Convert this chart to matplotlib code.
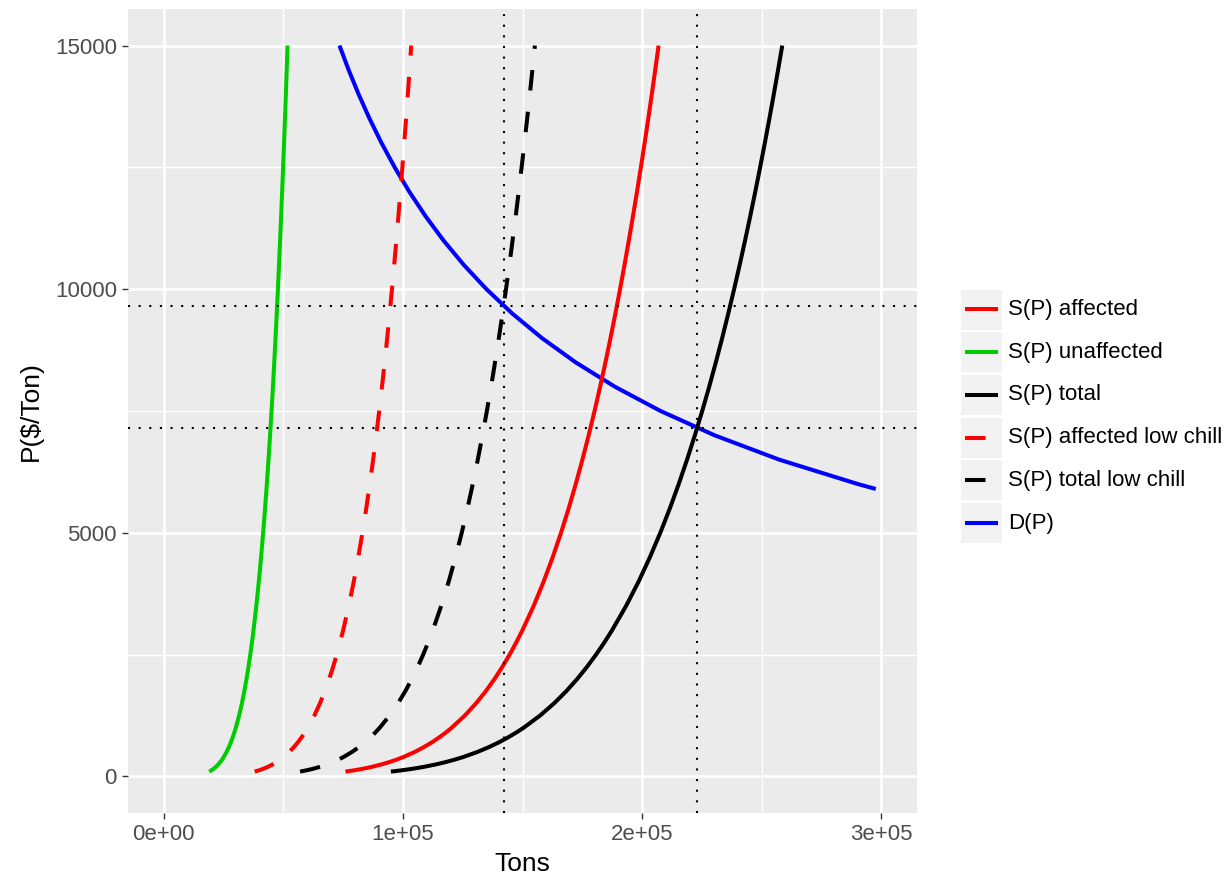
import matplotlib
matplotlib.use("Agg")
import matplotlib.pyplot as plt
from matplotlib.patches import Rectangle
from matplotlib.lines import Line2D

plt.rcParams['font.family'] = ['Liberation Sans', 'DejaVu Sans']

# ---- data ----
price = [100, 125, 150, 175, 200, 250, 300, 350, 400, 500, 600, 700, 800, 900,
         1000, 1250, 1500, 1750, 2000, 2250, 2500, 2750, 3000, 3500, 4000, 4500,
         5000, 5500, 6000, 6500, 7000, 7500, 8000, 8500, 9000, 9500, 10000, 10500,
         11000, 11500, 12000, 12500, 13000, 13500, 14000, 14500, 15000]

q_affected = [75960, 79424, 82376, 84956, 87256, 91236, 94624, 97588, 100232,
              104804, 108684, 112100, 115132, 117880, 120388, 125884, 130560,
              134648, 138292, 141588, 144600, 147384, 149968, 154664, 158852,
              162636, 166104, 169300, 172268, 175052, 177668, 180132, 182476,
              184696, 186824, 188852, 190804, 192672, 194472, 196208, 197888,
              199508, 201084, 202604, 204084, 205520, 206916]
q_unaffected = [18990, 19856, 20594, 21239, 21814, 22809, 23656, 24397, 25058,
                26201, 27171, 28025, 28783, 29470, 30097, 31471, 32640, 33662,
                34573, 35397, 36150, 36846, 37492, 38666, 39713, 40659, 41526,
                42325, 43067, 43763, 44417, 45033, 45619, 46174, 46706, 47213,
                47701, 48168, 48618, 49052, 49472, 49877, 50271, 50651, 51021,
                51380, 51729]
q_total = [94950, 99280, 102970, 106195, 109070, 114045, 118280, 121985, 125290,
           131005, 135855, 140125, 143915, 147350, 150485, 157355, 163200, 168310,
           172865, 176985, 180750, 184230, 187460, 193330, 198565, 203295, 207630,
           211625, 215335, 218815, 222085, 225165, 228095, 230870, 233530, 236065,
           238505, 240840, 243090, 245260, 247360, 249385, 251355, 253255, 255105,
           256900, 258645]
q_affected_low = [37980, 39712, 41188, 42478, 43628, 45618, 47312, 48794, 50116,
                  52402, 54342, 56050, 57566, 58940, 60194, 62942, 65280, 67324,
                  69146, 70794, 72300, 73692, 74984, 77332, 79426, 81318, 83052,
                  84650, 86134, 87526, 88834, 90066, 91238, 92348, 93412, 94426,
                  95402, 96336, 97236, 98104, 98944, 99754, 100542, 101302, 102042,
                  102760, 103458]
q_total_low = [56970, 59568, 61782, 63717, 65442, 68427, 70968, 73191, 75174,
               78603, 81513, 84075, 86349, 88410, 90291, 94413, 97920, 100986,
               103719, 106191, 108450, 110538, 112476, 115998, 119139, 121977,
               124578, 126975, 129201, 131289, 133251, 135099, 136857, 138522,
               140118, 141639, 143103, 144504, 145854, 147156, 148416, 149631,
               150813, 151953, 153063, 154140, 155187]

demand_price = [15000, 14500, 14000, 13500, 13000, 12500, 12000, 11500, 11000,
                10500, 10000, 9500, 9000, 8500, 8000, 7500, 7000, 6500, 6000, 5900]
demand_q = [73450, 77282, 81458, 86026, 91036, 96553, 102650, 109417, 116962,
            125414, 134937, 145729, 158040, 172188, 188580, 207748, 230401, 257489,
            290337, 297753]

hlines = [9657, 7155]
vlines = [142190, 222960]

legend_labels = ["S(P) affected", "S(P) unaffected", "S(P) total",
                 "S(P) affected low chill", "S(P) total low chill", "D(P)"]
legend_colors = ["#FF0000", "#00CD00", "#000000", "#FF0000", "#000000", "#0000FF"]
legend_dashed = [False, False, False, True, True, False]

xticks = [0, 100000, 200000, 300000]
xtick_labels = ["0e+00", "1e+05", "2e+05", "3e+05"]
yticks = [0, 5000, 10000, 15000]
ytick_labels = ["0", "5000", "10000", "15000"]

# ---- figure ----
W, H = 1230, 882
fig = plt.figure(figsize=(W / 100, H / 100), dpi=100)
ax = fig.add_axes([128 / W, 1 - 813 / H, (917 - 128) / W, (813 - 9) / H])
ax.set_facecolor("#EBEBEB")
for s in ax.spines.values():
    s.set_visible(False)

ax.set_xlim(-15000, 315000)
ax.set_ylim(-750, 15750)

ax.set_xticks(xticks)
ax.set_xticklabels(xtick_labels)
ax.set_yticks(yticks)
ax.set_yticklabels(ytick_labels)
ax.set_xticks([50000, 150000, 250000], minor=True)
ax.set_yticks([2500, 7500, 12500], minor=True)
ax.tick_params(which="major", length=4, width=1.0, color="#333333",
               labelcolor="#4D4D4D", labelsize=16, pad=4)
ax.tick_params(which="minor", length=0)
ax.grid(which="major", color="white", linewidth=1.9)
ax.grid(which="minor", color="white", linewidth=0.95)
ax.set_axisbelow(True)

LW = 2.9
DASH = (5.1, 5.3)

ax.plot(demand_q, demand_price, color="#0000FF", lw=LW, solid_capstyle="butt",
        solid_joinstyle="round")
ax.plot(q_affected, price, color="#FF0000", lw=LW, solid_capstyle="butt",
        solid_joinstyle="round")
ax.plot(q_unaffected, price, color="#00CD00", lw=LW, solid_capstyle="butt",
        solid_joinstyle="round")
ax.plot(q_total, price, color="#000000", lw=LW, solid_capstyle="butt",
        solid_joinstyle="round")
l1, = ax.plot(q_affected_low, price, color="#FF0000", lw=LW, dash_capstyle="butt",
              dash_joinstyle="round")
l1.set_dashes(DASH)
l2, = ax.plot(q_total_low, price, color="#000000", lw=LW, dash_capstyle="butt",
              dash_joinstyle="round")
l2.set_dashes(DASH)

for h in hlines:
    ln = ax.axhline(h, color="black", lw=1.5, dash_capstyle="butt")
    ln.set_dashes((1, 4.1))
for v in vlines:
    ln = ax.axvline(v, color="black", lw=1.5, dash_capstyle="butt")
    ln.set_dashes((1, 4.1))

ax.set_xlabel("Tons", fontsize=19, labelpad=5)
ax.set_ylabel("P($/Ton)", fontsize=19, labelpad=9)

# ---- legend (ggplot style keys) ----
for i, (lab, col, dsh) in enumerate(zip(legend_labels, legend_colors, legend_dashed)):
    top = 289.5 + 42.7 * i
    fig.patches.append(Rectangle((961 / W, 1 - (top + 40) / H), 40.5 / W, 40 / H,
                                 transform=fig.transFigure, facecolor="#F2F2F2",
                                 edgecolor="none"))
    yc = 1 - (top + 20) / H
    ln = Line2D([964.7 / W, 998.3 / W], [yc, yc], transform=fig.transFigure,
                color=col, lw=LW, solid_capstyle="butt", dash_capstyle="butt")
    if dsh:
        ln.set_dashes(DASH)
    fig.lines.append(ln)
    fig.text(1008 / W, yc, lab, fontsize=16, va="center", ha="left", color="black")

fig.savefig("out.png", dpi=100)
